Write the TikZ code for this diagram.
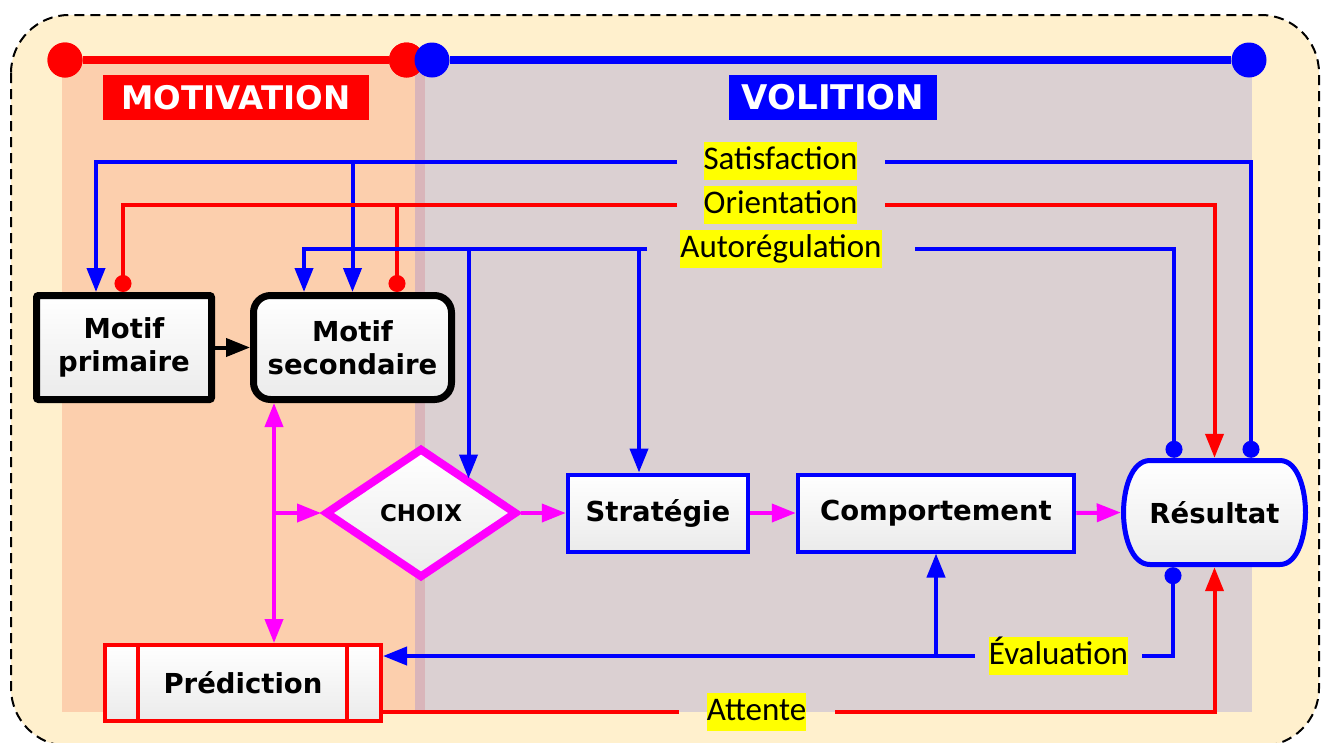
\documentclass[tikz,border=0pt]{standalone}
\usepackage{fontspec}
\setmainfont{DejaVu Sans}
\newfontfamily\labfont{Carlito}
\usetikzlibrary{arrows.meta,shapes.geometric,calc}
\definecolor{cream}{HTML}{FFF0CD}
\definecolor{motiv}{HTML}{FCCFAD}
\definecolor{volit}{HTML}{DBD0D2}
\definecolor{overl}{HTML}{D9B5BA}
\definecolor{mag}{HTML}{FF00FF}
\definecolor{bl}{HTML}{0000FF}
\definecolor{rd}{HTML}{FF0000}
\definecolor{hl}{HTML}{FFFF00}
\tikzset{
  mytri/.tip={Triangle[length=24pt,width=18pt]},
  myball/.tip={Circle[length=17pt]},
  box/.style={shape=rectangle, top color=white, bottom color=black!8, align=center, inner sep=0pt,
    font=\fontsize{27.5}{33}\selectfont\bfseries},
  lab/.style={fill=hl, font=\labfont\fontsize{33}{36}\selectfont, inner xsep=0pt, inner ysep=2pt,
    text height=25pt, text depth=9pt},
  bline/.style={draw=bl, line width=4pt},
  rline/.style={draw=rd, line width=4pt},
  mline/.style={draw=mag, line width=4pt},
  dot/.style={circle, minimum size=35pt, inner sep=0pt},
  title/.style={text=white, inner sep=0pt, minimum height=45pt, font=\bfseries}
}
\begin{document}
\begin{tikzpicture}[x=1pt,y=-1pt]
\useasboundingbox (0,0) rectangle (1322,742);
% background frame
\draw[black, line width=2pt, dash pattern=on 10pt off 6pt, rounded corners=58pt, fill=cream] (11,15) rectangle (1319,746);
% regions
\fill[motiv] (62,60) rectangle (425,712);
\fill[volit] (415,60) rectangle (1252,712);
\fill[overl] (415,60) rectangle (425,712);
% top bars
\node[dot, fill=rd] (r1) at (65,60) {};
\node[dot, fill=rd] (r2) at (406.5,60) {};
\draw[rd, line width=8pt] (r1) -- (r2);
\node[dot, fill=rd] at (r1) {};
\node[dot, fill=rd] at (r2) {};
\node[dot, fill=bl] (b1) at (432,60) {};
\node[dot, fill=bl] (b2) at (1249,60) {};
\draw[bl, line width=8pt] (b1) -- (b2);
% titles
\node[title, fill=rd, minimum width=266pt, font=\fontsize{32.5}{36}\selectfont\bfseries] (mot) at (236,97.5) {MOTIVATION};
\node[title, fill=bl, minimum width=207.5pt, font=\fontsize{34}{38}\selectfont\bfseries] (vol) at (833,97.5) {VOLITION};
% nodes
\node[box, draw=black, line width=7pt, minimum width=175pt, minimum height=104pt, rounded corners=2pt] (mp) at (124,347.5) {Motif\\primaire};
\node[box, draw=black, line width=7pt, minimum width=198pt, minimum height=104pt, rounded corners=17pt] (ms) at (352.5,347.5) {Motif\\secondaire};
\node[diamond, draw=mag, line width=8pt, top color=white, bottom color=black!8, minimum width=192pt, minimum height=130pt, inner sep=0pt, font=\fontsize{23}{26}\selectfont\bfseries] (ch) at (421,513) {CHOIX};
\node[box, draw=bl, line width=4pt, minimum width=180.5pt, minimum height=77pt] (st) at (658,513) {Stratégie};
\node[box, draw=bl, line width=4pt, minimum width=276.5pt, minimum height=77pt] (co) at (936,513) {Comportement};
\node[box, draw=rd, line width=4pt, minimum width=276pt, minimum height=76pt] (pred) at (243,683) {Prédiction};
\draw[rd, line width=4pt] ([xshift=35pt]pred.north west) -- ([xshift=35pt]pred.south west);
\draw[rd, line width=4pt] ([xshift=-36pt]pred.north east) -- ([xshift=-36pt]pred.south east);
% Resultat shape
\draw[bl, line width=5pt, top color=white, bottom color=black!8]
  (1150,460.5) -- (1280,460.5) .. controls (1298,460.5) and (1305.5,490) .. (1305.5,512.5)
  .. controls (1305.5,535) and (1298,564.5) .. (1280,564.5) -- (1150,564.5)
  .. controls (1131,564.5) and (1123.5,535) .. (1123.5,512.5)
  .. controls (1123.5,490) and (1131,460.5) .. (1150,460.5) -- cycle;
\node[inner sep=0pt, minimum width=187pt, minimum height=109pt, font=\fontsize{27.5}{33}\selectfont\bfseries] (res) at (1214.5,512.5) {Résultat};
% labels
\node[lab] (sat) at (780.5,161) {Satisfaction};
\node[lab] (ori) at (780.5,205) {Orientation};
\node[lab] (aut) at (781,249) {Autorégulation};
\node[lab] (eva) at (1058.5,656) {Évaluation};
\node[lab] (att) at (756.5,712) {Attente};
\coordinate (sL) at (677,162); \coordinate (sR) at (885,162);
\coordinate (oL) at (677,205); \coordinate (oR) at (885,205);
\coordinate (aL) at (647,249); \coordinate (aR) at (915,249);
\coordinate (eL) at (975,656); \coordinate (eR) at (1142,656);
\coordinate (tL) at (679,712); \coordinate (tR) at (835,712);
% Satisfaction
\draw[bline, -mytri] (sL) -| ([xshift=-28pt]mp.north);
\draw[bline, -mytri] (sL -| ms.north) -- (ms.north);
\draw[bline, -myball] (sR) -| ([xshift=36.5pt]res.north);
% Orientation
\draw[rline, -myball] (oL) -| ([xshift=-1pt]mp.north);
\draw[rline, -myball] ([xshift=44.5pt]ms.north |- oL) -- ([xshift=44.5pt]ms.north);
\draw[rline, -mytri] (oR) -| (res.north);
% Autoregulation
\draw[bline, -mytri] (aL) -| ([xshift=-48.5pt]ms.north);
\draw[bline, -mytri] ([xshift=-2.5pt]ch.north east |- aL) -- ([xshift=-2.5pt]ch.north east);
\draw[bline, -mytri] ([xshift=-19pt]st.north |- aL) -- ([xshift=-19pt]st.north);
\draw[bline, -myball] (aR) -| ([xshift=-40.5pt]res.north);
% Evaluation
\draw[bline, -myball] (eR) -| ([xshift=-41.5pt]res.south);
\draw[bline, -mytri] (eL) -- (eL -| pred.east);
\draw[bline, -mytri] (co.south |- eL) -- (co.south);
% Attente
\draw[rline] (tL) -- (tL -| pred.east);
\draw[rline, -mytri] (tR) -| (res.south);
% magenta flow
\coordinate (mj) at (274,513);
\draw[mline, mytri-mytri] (mj |- ms.south) -- (mj |- pred.north);
\draw[mline, -mytri] (mj) -- (ch.west);
\draw[mline, -mytri] (ch.east) -- (st.west);
\draw[mline, -mytri] (st.east) -- (co.west);
\draw[mline, -mytri] (co.east) -- (res.west);
% black
\draw[black, line width=4pt, -mytri] (mp.east) -- (ms.west);
\end{tikzpicture}
\end{document}
